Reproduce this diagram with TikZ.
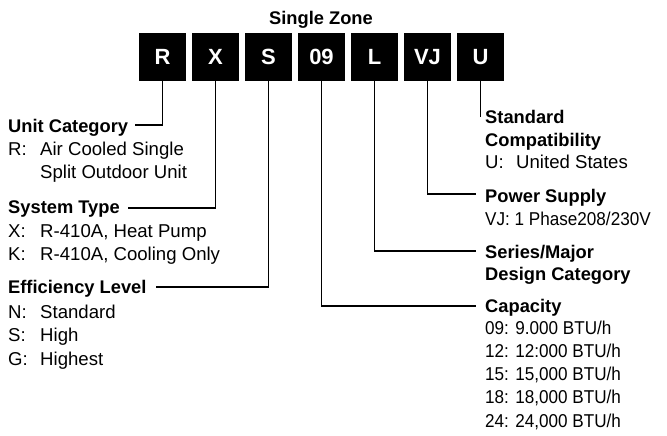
\documentclass[tikz,border=0pt]{standalone}
\usepackage{fontspec}
\setmainfont{Liberation Sans}
\newfontfamily\numfont{Liberation Sans}[FakeStretch=0.92]
\begin{document}
\begin{tikzpicture}[x=1pt,y=-1pt,
  codebox/.style={fill=black, minimum width=47pt, minimum height=48pt, inner sep=0pt, text=white, font=\fontsize{22}{22}\selectfont\bfseries},
  hd/.style={anchor=base west, inner sep=0pt, font=\fontsize{18.3}{20}\selectfont\bfseries},
  tx/.style={anchor=base west, inner sep=0pt, font=\fontsize{18.6}{20}\selectfont},
  nx/.style={anchor=base west, inner sep=0pt, font=\fontsize{18.6}{20}\numfont},
  conn/.style={line width=1.3pt}]
\useasboundingbox (0,0) rectangle (667,436);

% title
\node[anchor=base, inner sep=0pt, font=\fontsize{18.3}{20}\selectfont\bfseries] (title) at (321,25) {Single Zone};

% code boxes
\node[codebox] (bR)  at (162.5,57) {R};
\node[codebox] (bX)  at (215.5,57) {X};
\node[codebox] (bS)  at (268.5,57) {S};
\node[codebox] (b09) at (321.5,57) {09};
\node[codebox] (bL)  at (374.5,57) {L};
\node[codebox] (bVJ) at (427.5,57) {VJ};
\node[codebox] (bU)  at (480.5,57) {U};

% left column
\node[hd] (uc) at (8,132) {Unit Category};
\node[tx] (ucR) at (8,155) {R:};
\node[tx] (ucR1) at (40,155) {Air Cooled Single};
\node[tx] (ucR2) at (40,178) {Split Outdoor Unit};

\node[hd] (st) at (8,213) {System Type};
\node[tx] (stX) at (8,237) {X:};
\node[tx] (stX1) at (40,237) {R-410A, Heat Pump};
\node[tx] (stK) at (8,260) {K:};
\node[tx] (stK1) at (40,260) {R-410A, Cooling Only};

\node[hd] (el) at (8,293) {Efficiency Level};
\node[tx] (elN) at (8,318) {N:};
\node[tx] (elN1) at (40,318) {Standard};
\node[tx] (elS) at (8,341) {S:};
\node[tx] (elS1) at (40,341) {High};
\node[tx] (elG) at (8,365) {G:};
\node[tx] (elG1) at (40,365) {Highest};

% right column
\node[hd] (sc1) at (485,124) {Standard};
\node[hd] (sc2) at (485,146) {Compatibility};
\node[tx] (scU) at (485,168) {U:};
\node[tx] (scU1) at (516,168) {United States};

\node[hd] (ps) at (485,202) {Power Supply};
\node[nx] (psVJ) at (485,225) {VJ: 1 Phase208/230V};

\node[hd] (sm1) at (485,258) {Series/Major};
\node[hd] (sm2) at (485,280) {Design Category};

\node[hd] (cap) at (485,312) {Capacity};
\node[nx] (c09) at (485,334) {09: 9.000 BTU/h};
\node[nx] (c12) at (485,357) {12: 12:000 BTU/h};
\node[nx] (c15) at (485,380) {15: 15,000 BTU/h};
\node[nx] (c18) at (485,403) {18: 18,000 BTU/h};
\node[nx] (c24) at (485,427) {24: 24,000 BTU/h};

% connector ends
\coordinate (eUC) at (135,125);
\coordinate (eST) at (128,208);
\coordinate (eEL) at (156,287);
\coordinate (eU) at (480.5,117);
\coordinate (ePS) at (476,194);
\coordinate (eSM) at (476,251);
\coordinate (eCap) at (476,306);

\draw[conn] (bR.south) |- (eUC);
\draw[conn] (bX.south) |- (eST);
\draw[conn] (bS.south) |- (eEL);
\draw[conn] (b09.south) |- (eCap);
\draw[conn] (bL.south) |- (eSM);
\draw[conn] (bVJ.south) |- (ePS);
\draw[conn] (bU.south) -- (eU);
\end{tikzpicture}
\end{document}
